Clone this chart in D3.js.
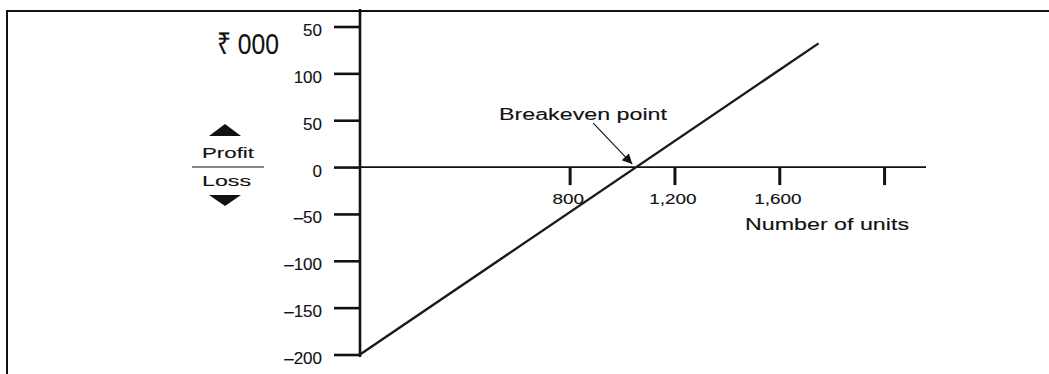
<!DOCTYPE html>
<html>
<head>
<meta charset="utf-8">
<script src="https://cdn.jsdelivr.net/npm/d3@7"></script>
<style>
  body { margin:0; background:#fff; }
  svg text { font-family: "Liberation Sans", Arial, sans-serif; fill:#111; stroke:#111; stroke-width:0.12px; }
</style>
</head>
<body>
<div id="chart"></div>
<script>
// data
var units = [0, 1750];
var profit = [-200, 132];
var yTickValues = [150, 100, 50, 0, -50, -100, -150, -200];
var yTickLabels = ["50", "100", "50", "0", "\u201350", "\u2013100", "\u2013150", "\u2013200"];
var xTickValues = [800, 1200, 1600, 2000];
var xTickLabels = ["800", "1,200", "1,600", ""];

var W = 1049, H = 374;
var x0 = 360, x1 = 926;      // x axis extent in px
var yTop = 26.5, yBot = 354.5;

var svg = d3.select("#chart").append("svg")
  .attr("width", W).attr("height", H);

var x = d3.scaleLinear().domain([0, 2160]).range([x0, x1]);
var y = d3.scaleLinear().domain([-200, 150]).range([yBot, yTop]);

// frame (top and left only)
svg.append("path")
   .attr("d", "M7,374 V11 H" + W)
   .attr("fill", "none").attr("stroke", "#111").attr("stroke-width", 2);

// y axis
var yAxis = d3.axisLeft(y)
  .tickValues(yTickValues)
  .tickFormat(function(d, i){ return yTickLabels[i]; })
  .tickSize(26).tickSizeOuter(0).tickPadding(12);

var gy = svg.append("g").attr("transform", "translate(" + x0 + ",0)").call(yAxis);
gy.select(".domain").remove();
gy.selectAll(".tick line").attr("stroke", "#111").attr("stroke-width", 2.6);
gy.selectAll(".tick text")
  .attr("font-size", 17).attr("dy", "0.53em")
  .style("font-family", "Liberation Sans, Arial, sans-serif").attr("fill", "#111");

svg.append("line")
   .attr("x1", x0).attr("x2", x0).attr("y1", 9).attr("y2", 357)
   .attr("stroke", "#111").attr("stroke-width", 2.6);

// x axis at zero
var xAxis = d3.axisBottom(x)
  .tickValues(xTickValues)
  .tickFormat(function(d, i){ return xTickLabels[i]; })
  .tickSize(18).tickSizeOuter(0).tickPadding(8);

var gx = svg.append("g").attr("transform", "translate(0," + y(0) + ")").call(xAxis);
gx.select(".domain").remove();
gx.selectAll(".tick line").attr("stroke", "#111").attr("stroke-width", 3);
gx.selectAll(".tick text")
  .attr("font-size", 15)
  .style("font-family", "Liberation Sans, Arial, sans-serif").attr("fill", "#111")
  .attr("transform", "translate(-2,0) scale(1.26,1)");

svg.append("line")
   .attr("x1", x0).attr("x2", x1).attr("y1", y(0)).attr("y2", y(0))
   .attr("stroke", "#111").attr("stroke-width", 1.8);

// profit line
var line = d3.line()
  .x(function(d){ return x(d[0]); })
  .y(function(d){ return y(d[1]); });

svg.append("path")
   .datum(units.map(function(u, i){ return [u, profit[i]]; }))
   .attr("d", line)
   .attr("fill", "none").attr("stroke", "#1a1a1a").attr("stroke-width", 2.4);

// breakeven point and arrow
var beUnits = units[0] + (units[1] - units[0]) * (0 - profit[0]) / (profit[1] - profit[0]);
var bx = x(beUnits), by = y(0);

svg.append("defs").append("marker")
   .attr("id", "arrow")
   .attr("viewBox", "0 0 10 10")
   .attr("refX", 10).attr("refY", 5)
   .attr("markerWidth", 14).attr("markerHeight", 10)
   .attr("markerUnits", "userSpaceOnUse")
   .attr("orient", "auto")
   .append("path").attr("d", "M0,0 L10,5 L0,10 Z").attr("fill", "#111");

svg.append("line")
   .attr("x1", bx - 43).attr("y1", by - 44)
   .attr("x2", bx - 4).attr("y2", by - 3)
   .attr("stroke", "#111").attr("stroke-width", 1.1)
   .attr("marker-end", "url(#arrow)");

svg.append("text")
   .attr("x", 499).attr("y", 120)
   .attr("font-size", 16)
   .attr("textLength", 168).attr("lengthAdjust", "spacingAndGlyphs")
   .text("Breakeven point");

svg.append("text")
   .attr("x", 745).attr("y", 230)
   .attr("font-size", 16.5)
   .attr("textLength", 164).attr("lengthAdjust", "spacingAndGlyphs")
   .text("Number of units");

// unit label
svg.append("text")
   .attr("x", 217).attr("y", 54)
   .attr("font-size", 30)
   .attr("textLength", 62).attr("lengthAdjust", "spacingAndGlyphs")
   .text("\u20b9 000");

// profit / loss key
svg.append("path").attr("d", "M209,136 L241,136 L225,124 Z").attr("fill", "#111");
svg.append("path").attr("d", "M209,195 L241,195 L225,206 Z").attr("fill", "#111");
svg.append("line")
   .attr("x1", 192).attr("x2", 264).attr("y1", 167).attr("y2", 167)
   .attr("stroke", "#111").attr("stroke-width", 1);
svg.append("text")
   .attr("x", 202).attr("y", 158).attr("font-size", 14.5)
   .attr("textLength", 52).attr("lengthAdjust", "spacingAndGlyphs")
   .text("Profit");
svg.append("text")
   .attr("x", 202).attr("y", 186).attr("font-size", 15)
   .attr("textLength", 49).attr("lengthAdjust", "spacingAndGlyphs")
   .text("Loss");
</script>
</body>
</html>
